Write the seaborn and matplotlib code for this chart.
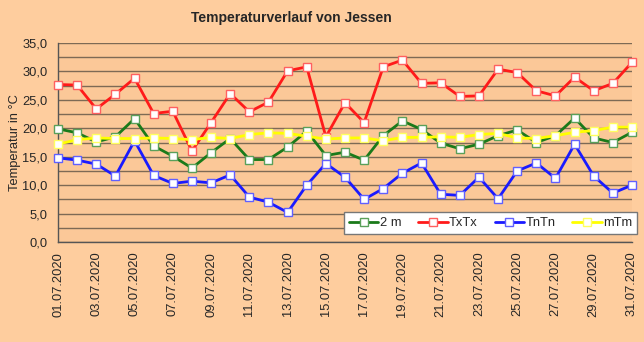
import matplotlib
matplotlib.use("Agg")
import matplotlib.pyplot as plt
import seaborn as sns
import numpy as np
import pandas as pd
from matplotlib.ticker import FuncFormatter, MultipleLocator

dates = [f"{d:02d}.07.2020" for d in range(1, 32)]

t2m = [19.9, 19.2, 17.6, 18.5, 21.7, 16.9, 15.1, 13.0, 15.7, 18.2, 14.5,
       14.5, 16.7, 19.5, 15.2, 15.8, 14.4, 18.7, 21.3, 19.8, 17.4,
       16.4, 17.2, 18.7, 19.7, 17.5, 18.7, 21.8, 18.3, 17.5, 19.3]
txtx = [27.7, 27.6, 23.4, 26.0, 28.8, 22.6, 23.0, 16.0, 21.0, 26.1, 22.9,
        24.6, 30.1, 30.8, 18.5, 24.5, 21.0, 30.8, 32.0, 27.9, 28.0,
        25.6, 25.7, 30.4, 29.8, 26.6, 25.7, 29.0, 26.6, 27.9, 31.6]
tntn = [14.8, 14.4, 13.7, 11.6, 17.8, 11.7, 10.3, 10.7, 10.4, 11.8, 7.9,
        7.0, 5.2, 10.0, 13.8, 11.4, 7.5, 9.4, 12.1, 13.9, 8.4,
        8.2, 11.4, 7.6, 12.5, 13.9, 11.2, 17.2, 11.6, 8.6, 10.0]
mtm = [17.2, 18.0, 18.3, 18.2, 18.2, 18.3, 18.2, 18.0, 18.4, 18.2, 18.9,
       19.2, 19.1, 18.6, 18.1, 18.3, 18.3, 17.8, 18.4, 18.4, 18.5,
       18.4, 18.9, 19.1, 18.3, 18.2, 18.7, 19.3, 19.6, 20.2, 20.2]

series_names = ["2 m", "TxTx", "TnTn", "mTm"]
line_colors = ["#1a7a1a", "#ff1a1a", "#1a1aff", "#ffff00"]
edge_colors = ["#5aa05a", "#ff6060", "#6060ff", "#ffff60"]

sns.set_style("white")
plt.rcParams['font.family'] = ['Liberation Sans', 'DejaVu Sans']

fig = plt.figure(figsize=(6.44, 3.42), dpi=100)
fig.patch.set_facecolor("#fecd9e")
ax = fig.add_axes([58/644, 1-242/342, (632-58)/644, (242-43)/342])
ax.set_facecolor("#fbc898")

x = np.arange(len(dates))
data = {"2 m": t2m, "TxTx": txtx, "TnTn": tntn, "mTm": mtm}
for name, lc, ec in zip(series_names, line_colors, edge_colors):
    df = pd.DataFrame({"x": x, "y": data[name]})
    sns.lineplot(data=df, x="x", y="y", ax=ax, color=lc, linewidth=2.0,
                 marker="s", markersize=6, markerfacecolor="white",
                 markeredgecolor=ec, markeredgewidth=1.0, label=name,
                 legend=False, clip_on=False, zorder=3)

ax.set_xlim(0, len(dates) - 1)
ax.set_ylim(0, 35)
ax.yaxis.set_major_locator(MultipleLocator(5))
ax.yaxis.set_minor_locator(MultipleLocator(2.5))
ax.yaxis.set_major_formatter(FuncFormatter(lambda v, p: f"{v:.1f}".replace(".", ",")))
ax.grid(True, which="both", axis="y", color="#7d6a55", linewidth=1.0)
ax.set_axisbelow(True)

ax.set_xticks(x)
ax.set_xticklabels([d if i % 2 == 0 else "" for i, d in enumerate(dates)],
                   rotation=90, fontsize=9.3)
ax.tick_params(axis="x", direction="out", length=4, width=0.8, color="#555555", pad=3)
ax.tick_params(axis="y", which="major", direction="out", length=4, width=0.8,
               color="#555555", labelsize=9.3)
ax.tick_params(axis="y", which="minor", length=0)

for s in ["top", "right"]:
    ax.spines[s].set_visible(False)
for s in ["left", "bottom"]:
    ax.spines[s].set_color("#555555")
    ax.spines[s].set_linewidth(1.0)

ax.set_xlabel("")
ax.set_ylabel("Temperatur in °C", fontsize=9.3, labelpad=1)

fig.text(291/644, 1-18/342, "Temperaturverlauf von Jessen", ha="center", va="center",
         fontsize=10, fontweight="bold")

handles, labels = ax.get_legend_handles_labels()
leg = fig.legend(handles, labels, loc="center right", ncol=4,
                 bbox_to_anchor=(637/644, 1-223/342), fontsize=9.3,
                 frameon=True, fancybox=False, handlelength=2.3,
                 handletextpad=0.1, columnspacing=1.3, borderpad=0.35,
                 borderaxespad=0)
leg.get_frame().set_facecolor("white")
leg.get_frame().set_edgecolor("#777777")
leg.get_frame().set_linewidth(1.0)
leg.get_frame().set_alpha(1.0)

fig.savefig("out.png", dpi=100, facecolor=fig.get_facecolor())
